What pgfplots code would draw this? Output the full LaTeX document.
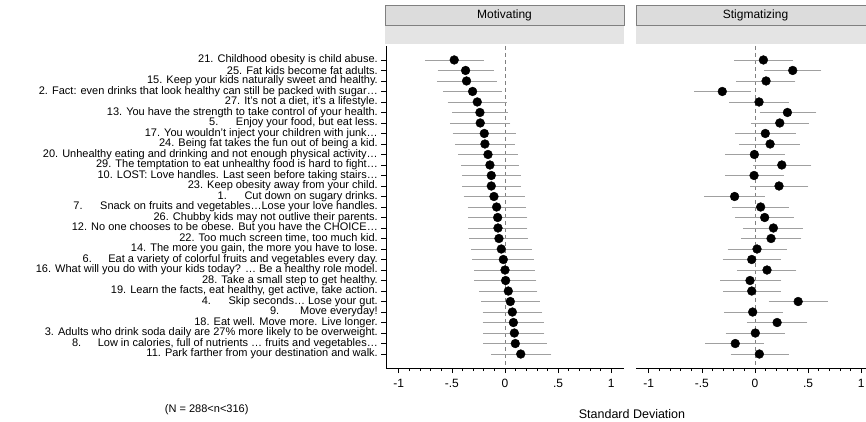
\documentclass[border=0pt]{standalone}
\usepackage{fontspec}
\setmainfont{Liberation Sans}
\usepackage{pgfplots}
\usepackage{pgfplotstable}
\pgfplotsset{compat=1.18}

% mean and interval, one row per message (row 1 at the top)
\pgfplotstableread{
r m lo hi
1 -0.478 -0.733 -0.220
2 -0.371 -0.613 -0.126
3 -0.362 -0.620 -0.100
4 -0.305 -0.563 -0.053
5 -0.261 -0.519 -0.003
6 -0.236 -0.478 0.009
7 -0.233 -0.497 0.031
8 -0.195 -0.472 0.079
9 -0.189 -0.447 0.072
10 -0.160 -0.421 0.097
11 -0.142 -0.393 0.110
12 -0.129 -0.384 0.126
13 -0.129 -0.384 0.132
14 -0.104 -0.368 0.167
15 -0.079 -0.330 0.179
16 -0.069 -0.324 0.189
17 -0.066 -0.324 0.189
18 -0.057 -0.314 0.198
19 -0.035 -0.299 0.230
20 -0.016 -0.289 0.252
21 0.000 -0.267 0.261
22 0.006 -0.267 0.274
23 0.031 -0.226 0.283
24 0.050 -0.204 0.308
25 0.069 -0.189 0.330
26 0.079 -0.189 0.346
27 0.088 -0.182 0.349
28 0.097 -0.182 0.371
29 0.148 -0.110 0.415
}\motiv

\pgfplotstableread{
r m lo hi
1 0.079 -0.176 0.337
2 0.355 0.104 0.604
3 0.104 -0.157 0.359
4 -0.308 -0.553 -0.063
5 0.038 -0.220 0.296
6 0.305 0.063 0.557
7 0.233 -0.019 0.487
8 0.097 -0.167 0.365
9 0.142 -0.126 0.400
10 -0.006 -0.261 0.258
11 0.252 0.006 0.509
12 -0.009 -0.261 0.248
13 0.226 -0.025 0.481
14 -0.192 -0.459 0.069
15 0.053 -0.192 0.296
16 0.091 -0.167 0.346
17 0.173 -0.094 0.431
18 0.151 -0.110 0.415
19 0.019 -0.236 0.280
20 -0.031 -0.283 0.223
21 0.113 -0.151 0.368
22 -0.047 -0.308 0.227
23 -0.031 -0.277 0.220
24 0.406 0.148 0.668
25 -0.022 -0.270 0.242
26 0.208 -0.057 0.472
27 0.003 -0.255 0.258
28 -0.186 -0.450 0.063
29 0.041 -0.208 0.299
}\stigma

\definecolor{barg}{HTML}{A0A0A0}
\definecolor{hdrfill}{HTML}{DCDCDC}
\definecolor{bandfill}{HTML}{E4E4E4}
\definecolor{hdrline}{HTML}{808080}

\begin{document}
\begin{tikzpicture}

\pgfplotsset{
  panel/.style={
    scale only axis, width=238pt, height=322pt,
    anchor=south west,
    xmin=-1.12, xmax=1.12, ymin=-0.33, ymax=30.33,
    y dir=reverse, clip=false,
    xtick={-1,-0.5,0,0.5,1},
    xticklabels={-1,-.5,0,.5,1},
    minor x tick num=4,
    tick align=outside,
    major tick length=5pt, minor tick length=3pt,
    axis x line*=bottom,
    axis line style={black, line width=0.7pt},
    every tick/.style={black, line width=0.6pt},
    xticklabel style={font=\fontsize{12}{13}\selectfont, yshift=-3pt},
  },
  cip/.style={only marks, mark=*, mark size=4.4pt, black,
    error bars/.cd, x dir=both, x explicit,
    error bar style={barg, line width=0.6pt},
    error mark options={barg, mark size=2.2pt, line width=0.6pt}},
}

% panel headers
\foreach \x/\t in {385/Motivating, 636/Stigmatizing}{
  \fill[bandfill] (\x pt,378pt) rectangle ++(239pt,18pt);
  \draw[hdrline, fill=hdrfill, line width=0.7pt] (\x pt,397pt) rectangle ++(239pt,20pt);
  \node[font=\fontsize{12}{13}\selectfont] at (\x pt+119.5pt,407pt) {\t};
}

\begin{axis}[panel, at={(386pt,54pt)},
  axis y line*=left,
  ytick={1,...,29},
  yticklabel style={font=\fontsize{11}{12}\selectfont, inner sep=0pt, xshift=-3pt},
  yticklabels={
    {21. Childhood obesity is child abuse.},
    {25. Fat kids become fat adults.},
    {15. Keep your kids naturally sweet and healthy.},
    {2. Fact: even drinks that look healthy can still be packed with sugar…\hspace{14pt}},
    {27. It's not a diet, it's a lifestyle.},
    {13. You have the strength to take control of your health.},
    {5.\hspace{1.6em}Enjoy your food, but eat less.},
    {17. You wouldn't inject your children with junk…},
    {24. Being fat takes the fun out of being a kid.},
    {20. Unhealthy eating and drinking and not enough physical activity…},
    {29. The temptation to eat unhealthy food is hard to fight…},
    {10. LOST: Love handles. Last seen before taking stairs…},
    {23. Keep obesity away from your child.},
    {1.\hspace{1.6em}Cut down on sugary drinks.},
    {7.\hspace{1.6em}Snack on fruits and vegetables…Lose your love handles.},
    {26. Chubby kids may not outlive their parents.},
    {12. No one chooses to be obese. But you have the CHOICE…},
    {22. Too much screen time, too much kid.},
    {14. The more you gain, the more you have to lose.},
    {6.\hspace{1.5em}Eat a variety of colorful fruits and vegetables every day.},
    {16. What will you do with your kids today? … Be a healthy role model.},
    {28. Take a small step to get healthy.},
    {19. Learn the facts, eat healthy, get active, take action.},
    {4.\hspace{1.6em}Skip seconds… Lose your gut.},
    {9.\hspace{1.9em}Move everyday!},
    {18. Eat well. Move more. Live longer.},
    {3. Adults who drink soda daily are 27\% more likely to be overweight.},
    {8.\hspace{1.5em}Low in calories, full of nutrients … fruits and vegetables…},
    {11. Park farther from your destination and walk.},
  },
]
\draw[gray, dashed, dash pattern=on 4pt off 3pt, line width=0.6pt]
  (axis cs:0,-0.33) -- (axis cs:0,30.33);
\addplot[cip] table[x=m, y=r,
  x error plus expr=\thisrow{hi}-\thisrow{m},
  x error minus expr=\thisrow{m}-\thisrow{lo}] {\motiv};
\end{axis}

\begin{axis}[panel, at={(636pt,54pt)},
  axis y line=none, ytick=\empty,
]
\draw[gray, dashed, dash pattern=on 4pt off 3pt, line width=0.6pt]
  (axis cs:0,-0.33) -- (axis cs:0,30.33);
\addplot[cip] table[x=m, y=r,
  x error plus expr=\thisrow{hi}-\thisrow{m},
  x error minus expr=\thisrow{m}-\thisrow{lo}] {\stigma};
\end{axis}

\node[font=\fontsize{11}{12}\selectfont, anchor=east] at (252pt,12pt) {(N = 288<n<316)};
\node[font=\fontsize{12.5}{14}\selectfont] at (632pt,8pt) {Standard Deviation};

\pgfresetboundingbox
\useasboundingbox (0pt,0pt) rectangle (866pt,422pt);
\end{tikzpicture}
\end{document}
